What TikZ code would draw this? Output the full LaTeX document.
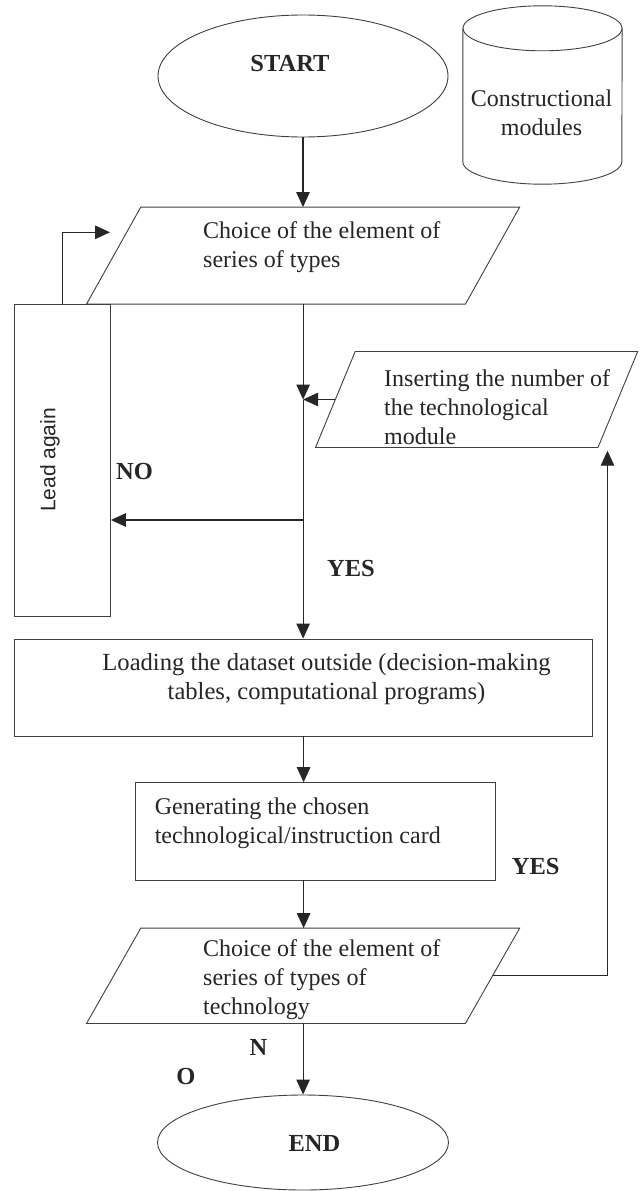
\documentclass[tikz,border=0pt]{standalone}
\usepackage{fontspec}
\setmainfont{Liberation Serif}
\newfontfamily\sansf{Liberation Sans}
\usetikzlibrary{shapes.geometric,arrows.meta}

\definecolor{ink}{HTML}{262626}
\definecolor{edge}{HTML}{404040}

\tikzset{
  outline/.style={draw=edge, line width=0.9pt, inner sep=0pt},
  frame/.style={rectangle, inner sep=0pt},
  flow/.style={draw=ink, line width=1.1pt,
    -{Triangle[length=15pt,width=13.5pt]}},
  txt/.style={font=\fontsize{24}{29}\selectfont, text=ink, inner sep=0pt},
  lbl/.style={font=\fontsize{24.5}{29}\selectfont\bfseries, text=ink, inner sep=0pt},
}

\begin{document}
\begin{tikzpicture}[x=1pt, y=-1pt]
\useasboundingbox[fill=white] (0,0) rectangle (641,1191);

% terminals
\node[outline, ellipse, minimum width=290pt, minimum height=122pt] (start) at (303,76) {};
\node[lbl] (starttxt) at (290,63.4) {START};
\node[outline, ellipse, minimum width=291pt, minimum height=95pt] (end) at (303,1142.5) {};
\node[lbl] (endtxt) at (314.5,1143.4) {END};

% data store (cylinder drawn around its frame)
\node[frame, minimum width=159pt, minimum height=178pt] (store) at (542.5,95) {};
\draw[outline] ([yshift=-22.5pt]store.north) ellipse [x radius=79.5pt, y radius=22.5pt];
\draw[outline] ([yshift=-22.5pt]store.north west) -- ([yshift=22.5pt]store.south west)
  arc[start angle=180, end angle=360, x radius=79.5pt, y radius=22.5pt]
  -- ([yshift=-22.5pt]store.north east);
\node[txt, align=center] (storetxt) at (541.5,113) {Constructional\\modules};

% input / output blocks (parallelograms drawn inside their frames)
\node[frame, minimum width=432.8pt, minimum height=96.7pt] (p1) at (303.1,255.6) {};
\draw[outline] (p1.south west) -- ([xshift=54.3pt]p1.north west) -- (p1.north east)
  -- ([xshift=-54.3pt]p1.south east) -- cycle;
\node[txt, align=left, anchor=west] (p1txt) at (203,247.5) {Choice of the element of\\series of types};

\node[frame, minimum width=321.8pt, minimum height=95.6pt] (ins) at (476.6,399.5) {};
\draw[outline] (ins.south west) -- ([xshift=39.7pt]ins.north west) -- (ins.north east)
  -- ([xshift=-39.7pt]ins.south east) -- cycle;
\node[txt, align=left, anchor=west] (instxt) at (384,407) {Inserting the number of\\the technological\\module};

\node[frame, minimum width=432.8pt, minimum height=95pt] (p3) at (303.1,975.8) {};
\draw[outline] (p3.south west) -- ([xshift=54.3pt]p3.north west) -- (p3.north east)
  -- ([xshift=-54.3pt]p3.south east) -- cycle;
\node[txt, align=left, anchor=west] (p3txt) at (203,980) {Choice of the element of\\series of types of\\technology};

% process blocks
\node[outline, rectangle, minimum width=96.5pt, minimum height=312pt] (lead) at (62.25,460) {};
\node[font=\sansf\fontsize{21}{25}\selectfont, text=ink, inner sep=0pt, rotate=90] (leadtxt) at (50,460) {Lead again};

\node[outline, rectangle, minimum width=577.6pt, minimum height=97pt] (load) at (303.6,687.5) {};
\node[txt, align=center, font=\fontsize{24.6}{29}\selectfont] (loadtxt) at (326.5,679) {Loading the dataset outside (decision-making\\tables, computational programs)};

\node[outline, rectangle, minimum width=360pt, minimum height=97.3pt] (gen) at (315,831.3) {};
\node[txt, align=left, anchor=west] (gentxt) at (154.6,823.5) {Generating the chosen\\technological/instruction card};

% branch labels
\node[lbl] (no) at (134.5,472) {NO};
\node[lbl] (yes1) at (351,569) {YES};
\node[lbl] (yes2) at (535.7,866.7) {YES};
\node[lbl] (n) at (258.5,1047) {N};
\node[lbl] (o) at (186,1076) {O};

% junctions and free ends
\coordinate (join) at (ins.west -| p1.center);
\coordinate (split) at (303.1,520);
\coordinate (loopend) at (110,232.3);
\coordinate (fbend) at (607.5,450.7);

% connectors
\draw[flow] (start.south) -- (start.south |- p1.north);
\draw[flow] (p1.center |- p1.south) -- (join);
\draw[flow] ([xshift=19.85pt]ins.west) -- (join);
\draw[flow] (join) -- (join |- load.north);
\draw[flow] (split) -- (split -| lead.east);
\draw[flow] (lead.north) |- (loopend);
\draw[flow] (load.south) -- (load.south |- gen.north);
\draw[flow] (load.south |- gen.south) -- (load.south |- p3.north);
\draw[flow] (p3.center |- p3.south) -- (p3.center |- end.north);
\draw[flow] ([xshift=-27.15pt]p3.east) -| (fbend);
\end{tikzpicture}
\end{document}
